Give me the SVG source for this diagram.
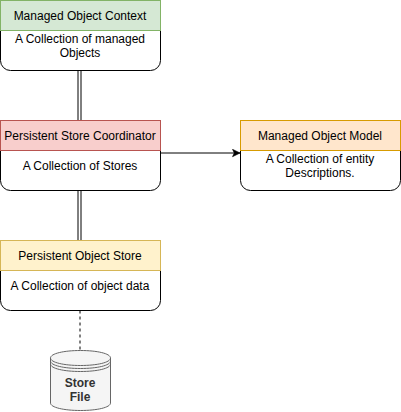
<svg xmlns="http://www.w3.org/2000/svg" width="401" height="412" viewBox="0 0 401 412">
<style>
text{font-family:"Liberation Sans",Arial,Helvetica,sans-serif;font-size:12px;fill:#000;text-anchor:middle}
.body{fill:#fff;stroke:#000;stroke-width:1}
.head{stroke-width:1}
.conn{fill:none;stroke:#000;stroke-width:1}
</style>
<defs>
<marker id="arrow" markerUnits="userSpaceOnUse" markerWidth="9" markerHeight="9" refX="8" refY="4.5" orient="auto"><path d="M0.5 0.8L8 4.5L0.5 8.2L2.3 4.5Z" fill="#000" stroke="#000" stroke-width="0.6"/></marker>
</defs>
<g id="connectors">
<path class="conn" d="M78 70.5V120.5M81 70.5V120.5M78 190.5V240.5M81 190.5V240.5"/>
<path class="conn" d="M160.5 153H240" marker-end="url(#arrow)"/>
<path class="conn" d="M80 310.5V350" stroke-dasharray="3 3"/>
</g>
<g id="managed-object-context">
<path class="body" d="M0.5 30.5H160.5V60.5A10 10 0 0 1 150.5 70.5H10.5A10 10 0 0 1 0.5 60.5Z"/>
<rect class="head" x="0.5" y="0.5" width="160" height="30" fill="#d5e8d4" stroke="#82b366"/>
<text x="80" y="20">Managed Object Context</text>
<text x="80" y="43">A Collection of managed</text>
<text x="80" y="57">Objects</text>
</g>
<g id="persistent-store-coordinator">
<path class="body" d="M0.5 150.5H160.5V180.5A10 10 0 0 1 150.5 190.5H10.5A10 10 0 0 1 0.5 180.5Z"/>
<rect class="head" x="0.5" y="120.5" width="160" height="30" fill="#f8cecc" stroke="#b85450"/>
<text x="80" y="140">Persistent Store Coordinator</text>
<text x="80" y="170">A Collection of Stores</text>
</g>
<g id="managed-object-model">
<path class="body" d="M240.5 150.5H400.5V180.5A10 10 0 0 1 390.5 190.5H250.5A10 10 0 0 1 240.5 180.5Z"/>
<rect class="head" x="240.5" y="120.5" width="160" height="30" fill="#ffe6cc" stroke="#d79b00"/>
<text x="320" y="140">Managed Object Model</text>
<text x="320" y="163">A Collection of entity</text>
<text x="320" y="177">Descriptions.</text>
</g>
<g id="persistent-object-store">
<path class="body" d="M0.5 270.5H160.5V300.5A10 10 0 0 1 150.5 310.5H10.5A10 10 0 0 1 0.5 300.5Z"/>
<rect class="head" x="0.5" y="240.5" width="160" height="30" fill="#fff2cc" stroke="#d6b656"/>
<text x="80" y="260">Persistent Object Store</text>
<text x="80" y="290">A Collection of object data</text>
</g>
<g id="store-file">
<path d="M50.5 358C50.5 353.500 64 350.500 80.500 350.500C97 350.500 110.500 353.500 110.500 358V403C110.500 407.500 97 410.500 80.500 410.500C64 410.500 50.500 407.500 50.500 403Z" fill="#f5f5f5" stroke="#666"/>
<path d="M50.500 358C50.500 362.500 64 365.500 80.500 365.500C97 365.500 110.500 362.500 110.500 358M50.500 361C50.500 365.500 64 368.500 80.500 368.500C97 368.500 110.500 365.500 110.500 361M50.500 364C50.500 368.500 64 371.500 80.500 371.500C97 371.500 110.500 368.500 110.500 364" fill="none" stroke="#666"/>
<text x="80" y="387" style="font-weight:bold;fill:#333">Store</text>
<text x="80" y="401" style="font-weight:bold;fill:#333">File</text>
</g>
</svg>
